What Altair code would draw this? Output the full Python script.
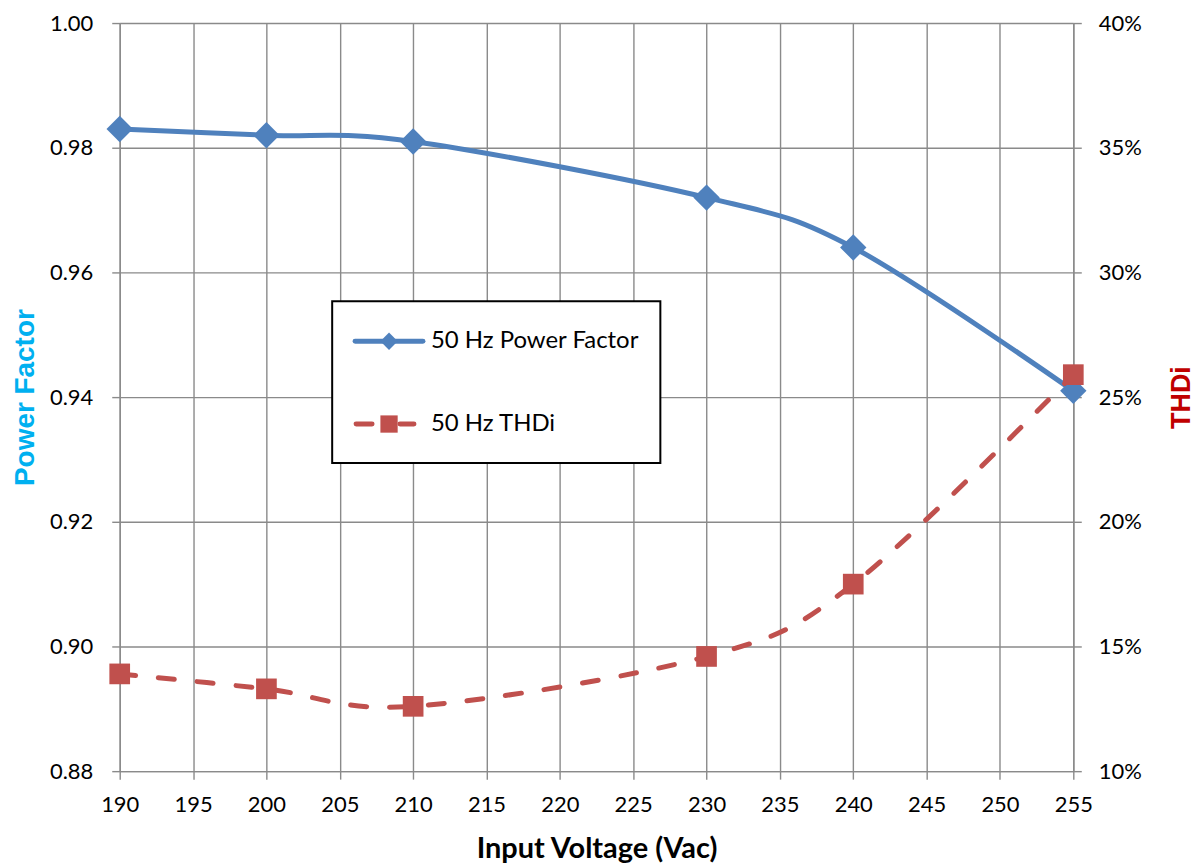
import altair as alt
import pandas as pd

# ---- data ----
voltage = [190, 200, 210, 230, 240, 255]
power_factor = [0.983, 0.982, 0.981, 0.972, 0.964, 0.941]
thdi = [0.139, 0.133, 0.126, 0.146, 0.175, 0.259]

x_ticks = [190, 195, 200, 205, 210, 215, 220, 225, 230, 235, 240, 245, 250, 255]
pf_ticks = [0.88, 0.90, 0.92, 0.94, 0.96, 0.98, 1.00]
thd_ticks = [0.10, 0.15, 0.20, 0.25, 0.30, 0.35, 0.40]

series_names = ["50 Hz Power Factor", "50 Hz THDi"]
series_colors = ["#4F81BD", "#C0504D"]

pf_df = pd.DataFrame({"v": voltage, "val": power_factor})
thd_df = pd.DataFrame({"v": voltage, "val": thdi})
one = pd.DataFrame({"k": [0]})

GRID = "#8A8A8A"
LABEL_FONT = "Lato"

x_enc = alt.X(
    "v:Q",
    scale=alt.Scale(domain=[190, 255], nice=False, zero=False),
    axis=alt.Axis(
        values=x_ticks,
        labelFlush=False,
        title="Input Voltage (Vac)",
        titleFont=LABEL_FONT,
        titleFontSize=29,
        titleFontWeight="bold",
        titleColor="black",
        titlePadding=20,
        labelPadding=15,
    ),
)

y_pf = alt.Y(
    "val:Q",
    scale=alt.Scale(domain=[0.88, 1.00], nice=False, zero=False),
    axis=alt.Axis(
        values=pf_ticks,
        format=".2f",
        labelFlush=False,
        title="Power Factor",
        titleColor="#00B0F0",
        titleFont="Liberation Sans",
        titleFontSize=28,
        titleFontWeight="bold",
        titlePadding=10,
        labelPadding=19,
    ),
)

y_thd = alt.Y(
    "val:Q",
    scale=alt.Scale(domain=[0.10, 0.40], nice=False, zero=False),
    axis=alt.Axis(
        values=thd_ticks,
        format=".0%",
        labelFlush=False,
        orient="right",
        title="THDi",
        titleColor="#C00000",
        titleFont="Liberation Sans",
        titleFontSize=27,
        titleFontWeight="bold",
        titleAngle=270,
        titlePadding=54,
        labelPadding=17,
    ),
)

pf_base = alt.Chart(pf_df).encode(x=x_enc, y=y_pf)
pf_line = pf_base.mark_line(strokeWidth=5, interpolate="cardinal", strokeCap="round", color=series_colors[0])
pf_pts = pf_base.mark_point(shape="diamond", filled=True, size=700, opacity=1, color=series_colors[0])

thd_base = alt.Chart(thd_df).encode(x=x_enc, y=y_thd)
thd_line = thd_base.mark_line(strokeWidth=5, interpolate="cardinal", strokeDash=[16, 23],
                              strokeCap="round", color=series_colors[1])
thd_pts = thd_base.mark_point(shape="square", filled=True, size=430, opacity=1, color=series_colors[1])

# ---- legend box (drawn in plot-area pixel space) ----
lg = alt.Chart(one)
box = lg.mark_rect(fill="white", stroke="black", strokeWidth=2).encode(
    x=alt.value(213), x2=alt.value(542), y=alt.value(279), y2=alt.value(441))
lg_pf_line = lg.mark_rule(strokeWidth=5, strokeCap="round", color=series_colors[0]).encode(
    x=alt.value(236), x2=alt.value(304), y=alt.value(319))
lg_pf_pt = lg.mark_point(shape="diamond", filled=True, size=300, opacity=1, color=series_colors[0]).encode(
    x=alt.value(270), y=alt.value(319))
lg_thd_d1 = lg.mark_rule(strokeWidth=5, strokeCap="round", color=series_colors[1]).encode(
    x=alt.value(237), x2=alt.value(253), y=alt.value(402))
lg_thd_d2 = lg.mark_rule(strokeWidth=5, strokeCap="round", color=series_colors[1]).encode(
    x=alt.value(281), x2=alt.value(295), y=alt.value(402))
lg_thd_pt = lg.mark_point(shape="square", filled=True, size=300, opacity=1, color=series_colors[1]).encode(
    x=alt.value(270), y=alt.value(402))
lg_txt1 = lg.mark_text(align="left", baseline="middle", font=LABEL_FONT, fontSize=24, color="black").encode(
    x=alt.value(312), y=alt.value(319), text=alt.value(series_names[0]))
lg_txt2 = lg.mark_text(align="left", baseline="middle", font=LABEL_FONT, fontSize=24, color="black").encode(
    x=alt.value(312), y=alt.value(402), text=alt.value(series_names[1]))

legend_layer = alt.layer(box, lg_pf_line, lg_pf_pt, lg_thd_d1, lg_thd_d2, lg_thd_pt, lg_txt1, lg_txt2)

chart = (
    alt.layer(alt.layer(pf_line, pf_pts), alt.layer(thd_line, thd_pts), legend_layer)
    .resolve_scale(y="independent")
    .properties(width=956, height=750, padding={"left": 3, "top": 3, "right": 0, "bottom": 0}, background="white")
    .configure_view(strokeWidth=0)
    .configure_axis(
        grid=True,
        gridColor=GRID,
        gridWidth=1.4,
        domainColor=GRID,
        domainWidth=1.4,
        tickColor=GRID,
        tickWidth=1.4,
        tickSize=8,
        labelFont=LABEL_FONT,
        labelFontSize=22,
        labelColor="black",
    )
)

chart.save("out.html", embed_options={"renderer": "svg", "actions": False})
